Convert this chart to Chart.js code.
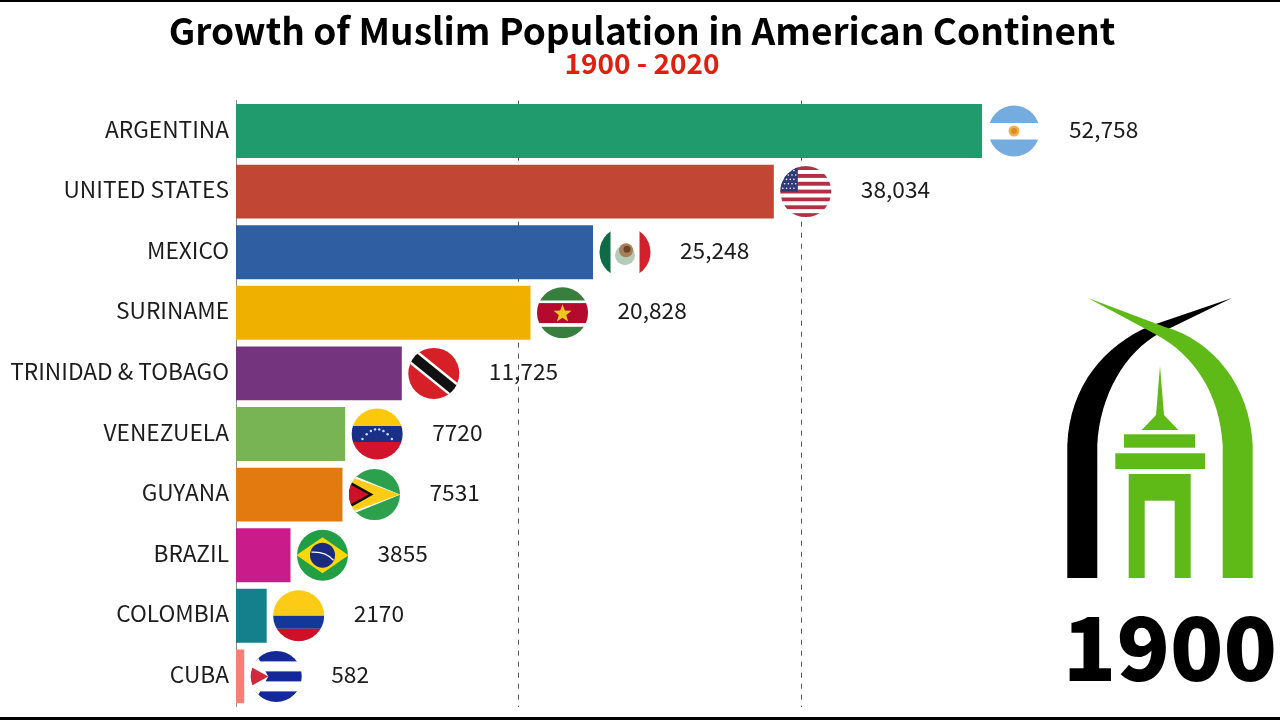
<!DOCTYPE html>
<html>
<head>
<meta charset="utf-8">
<title>Growth of Muslim Population in American Continent</title>
<script src="https://cdn.jsdelivr.net/npm/chart.js@4/dist/chart.umd.min.js"></script>
<style>
  html, body { margin: 0; padding: 0; background: #fff; overflow: hidden; }
  canvas { display: block; }
</style>
</head>
<body>
<canvas id="chart" width="1280" height="720"></canvas>
<script>
const countries = ["ARGENTINA", "UNITED STATES", "MEXICO", "SURINAME", "TRINIDAD & TOBAGO", "VENEZUELA", "GUYANA", "BRAZIL", "COLOMBIA", "CUBA"];
const population = [52758, 38034, 25248, 20828, 11725, 7720, 7531, 3855, 2170, 582];
const barColors = ["#1F9B6E", "#C24634", "#305EA3", "#EFB000", "#74357E", "#78B454", "#E27A10", "#C91C8A", "#14808C", "#FA7E76"];
const gridValues = [20000, 40000];
const year = "1900";

const FONT = '"Noto Sans CJK SC", "Noto Sans", sans-serif';

// Small helpers for the flags, everything relative to the flag centre
function band(c, color, x, y, w, h) {
  c.fillStyle = color;
  c.fillRect(x, y, w, h);
}
function poly(c, color, pts) {
  c.fillStyle = color;
  c.beginPath();
  pts.forEach((p, i) => (i ? c.lineTo(p[0], p[1]) : c.moveTo(p[0], p[1])));
  c.closePath();
  c.fill();
}
function disc(c, color, x, y, r) {
  c.fillStyle = color;
  c.beginPath();
  c.arc(x, y, r, 0, Math.PI * 2);
  c.fill();
}
function star(c, color, x, y, r) {
  const pts = [];
  for (let i = 0; i < 10; i++) {
    const a = -Math.PI / 2 + (i * Math.PI) / 5;
    const d = i % 2 ? r * 0.42 : r;
    pts.push([x + d * Math.cos(a), y + d * Math.sin(a)]);
  }
  poly(c, color, pts);
}

const flags = {
  "ARGENTINA": (c) => {
    band(c, "#74ACDF", -26, -26, 52, 18);
    band(c, "#74ACDF", -26, 8.5, 52, 18);
    disc(c, "#F2B04A", 0, 0, 5.5);
    disc(c, "#D98E1F", 0, 0, 3);
  },
  "UNITED STATES": (c) => {
    for (let i = 0; i < 13; i++) band(c, i % 2 ? "#FFFFFF" : "#B03045", -26, -25.5 + (i * 51) / 13, 52, 51 / 13 + 0.3);
    band(c, "#2E3A78", -26, -26, 18, 26);
    for (let r = 0; r < 5; r++) {
      for (let k = 0; k < 4; k++) disc(c, "#FFFFFF", -23 + k * 3.7 + (r % 2) * 1.8, -21 + r * 4.4, 0.8);
    }
  },
  "MEXICO": (c) => {
    band(c, "#0F6B46", -26, -26, 11.5, 52);
    band(c, "#D2202C", 14.5, -26, 11.5, 52);
    disc(c, "#B5CDB8", 0, 3, 10);
    disc(c, "#A87F58", 1, -2, 7);
    disc(c, "#6B4526", 2, -3, 3.5);
  },
  "SURINAME": (c) => {
    band(c, "#377E3F", -26, -26, 52, 13.7);
    band(c, "#377E3F", -26, 14, 52, 12);
    band(c, "#B40A2D", -26, -9.7, 52, 20);
    star(c, "#ECC81D", 0, 1, 9.5);
  },
  "TRINIDAD & TOBAGO": (c) => {
    band(c, "#D61F26", -26, -26, 52, 52);
    c.rotate((39 * Math.PI) / 180);
    band(c, "#FFFFFF", -30, -7.5, 60, 15);
    band(c, "#111111", -30, -5, 60, 10);
  },
  "VENEZUELA": (c) => {
    band(c, "#FCC80C", -26, -26, 52, 18);
    band(c, "#1A2F86", -26, -8, 52, 16);
    band(c, "#CF142B", -26, 8, 52, 18);
    for (let i = -3.5; i <= 3.5; i++) disc(c, "#D5DEF5", i * 4.2, 5 - (12.25 - i * i) * 0.8, 1.2);
  },
  "GUYANA": (c) => {
    band(c, "#2CA04C", -26, -26, 52, 52);
    poly(c, "#FFFFFF", [[-26, -21], [26, 0], [-26, 21]]);
    poly(c, "#FCCB16", [[-26, -18.5], [25, 0], [-26, 18.5]]);
    poly(c, "#111111", [[-26, -14], [-1, 0], [-26, 14]]);
    poly(c, "#CE1126", [[-26, -11], [-6, 0], [-26, 11]]);
  },
  "BRAZIL": (c) => {
    band(c, "#229E45", -26, -26, 52, 52);
    poly(c, "#F8D808", [[-26, 0], [0, -18], [26, 0], [0, 18]]);
    disc(c, "#1A2A80", 0, 0, 12.5);
    c.strokeStyle = "#FFFFFF";
    c.lineWidth = 1.3;
    c.beginPath();
    c.moveTo(-11, -3);
    c.quadraticCurveTo(3, -4, 11, 5);
    c.stroke();
  },
  "COLOMBIA": (c) => {
    band(c, "#FCCB16", -26, -26, 52, 26);
    band(c, "#14389A", -26, 0, 52, 13);
    band(c, "#CE1126", -26, 13, 52, 13);
  },
  "CUBA": (c) => {
    band(c, "#14289A", -26, -26, 52, 11);
    band(c, "#14289A", -26, -5, 52, 10);
    band(c, "#14289A", -26, 15, 52, 11);
    poly(c, "#FFFFFF", [[-32, -26], [-22, -26], [-8, 0], [-22, 26], [-32, 26]]);
    poly(c, "#D2283C", [[-26, -10], [-8, 0], [-26, 10]]);
  },
};

// Flags and value labels sit at the end of each bar
const barEnds = {
  id: "barEnds",
  afterDatasetsDraw(chart) {
    const c = chart.ctx;
    chart.getDatasetMeta(0).data.forEach((bar, i) => {
      c.save();
      c.translate(bar.x + 32, bar.y);
      c.beginPath();
      c.arc(0, 0, 25.5, 0, Math.PI * 2);
      c.fillStyle = "#FFFFFF";
      c.fill();
      c.clip();
      flags[countries[i]](c);
      c.restore();

      const v = population[i];
      c.save();
      c.font = "22.7px " + FONT;
      c.fillStyle = "#1C1C1C";
      c.textAlign = "left";
      c.textBaseline = "middle";
      c.fillText(v >= 10000 ? v.toLocaleString("en-US") : String(v), bar.x + 87, bar.y - 2);
      c.restore();
    });
  },
};

// Black video edges, the logo and the big year on the right
const decor = {
  id: "decor",
  afterDraw(chart) {
    const c = chart.ctx;
    c.save();
    band(c, "#000000", 0, 0, 1280, 2);
    band(c, "#000000", 0, 717, 1280, 3);

    // black arch
    c.fillStyle = "#000000";
    c.beginPath();
    c.moveTo(1067.3, 578);
    c.lineTo(1067.3, 445);
    c.bezierCurveTo(1070, 385, 1105, 345, 1150, 326);
    c.lineTo(1232, 298);
    c.lineTo(1160, 333);
    c.bezierCurveTo(1125, 352, 1100, 395, 1097.3, 445);
    c.lineTo(1097.3, 578);
    c.closePath();
    c.fill();

    // green arch on top of it
    c.fillStyle = "#5FBA18";
    c.beginPath();
    c.moveTo(1252.7, 578);
    c.lineTo(1252.7, 445);
    c.bezierCurveTo(1250, 385, 1212, 340, 1165, 327);
    c.lineTo(1088, 298);
    c.lineTo(1155, 334);
    c.bezierCurveTo(1195, 355, 1220, 395, 1222.7, 445);
    c.lineTo(1222.7, 578);
    c.closePath();
    c.fill();

    // tower
    poly(c, "#5FBA18", [[1160, 366], [1164, 415], [1178.3, 430], [1141.7, 430], [1156, 415]]);
    band(c, "#5FBA18", 1124, 434.3, 71, 13.4);
    band(c, "#5FBA18", 1115.3, 453.3, 89.7, 15.7);
    band(c, "#5FBA18", 1128.7, 474, 62, 104);
    band(c, "#FFFFFF", 1144.7, 500.7, 30, 78);

    c.font = "900 88px " + FONT;
    c.fillStyle = "#000000";
    c.textAlign = "center";
    c.textBaseline = "middle";
    c.fillText(year, 1170, 648);
    c.restore();
  },
};

new Chart(document.getElementById("chart"), {
  type: "bar",
  plugins: [barEnds, decor],
  data: {
    labels: countries,
    datasets: [
      {
        data: population,
        backgroundColor: barColors,
        barPercentage: 0.89,
        categoryPercentage: 1,
      },
    ],
  },
  options: {
    indexAxis: "y",
    responsive: false,
    animation: false,
    devicePixelRatio: 1,
    layout: { padding: { left: 4, right: 0, top: 0, bottom: 13.3 } },
    plugins: {
      legend: { display: false },
      tooltip: { enabled: false },
      title: {
        display: true,
        text: "Growth of Muslim Population in American Continent",
        color: "#000000",
        font: { family: FONT, size: 37, weight: "bold", lineHeight: 1 },
        padding: { top: 12, bottom: 0 },
      },
      subtitle: {
        display: true,
        text: "1900 - 2020",
        color: "#DD2010",
        font: { family: FONT, size: 28, weight: "bold", lineHeight: 1 },
        padding: { top: 0, bottom: 23.7 },
      },
    },
    scales: {
      x: {
        min: 0,
        max: 73832,
        afterBuildTicks: (scale) => {
          scale.ticks = gridValues.map((value) => ({ value }));
        },
        afterFit: (scale) => {
          scale.height = 0;
        },
        ticks: { display: false },
        border: { display: false, dash: [5, 6] },
        grid: { drawTicks: false, color: "#555555" },
      },
      y: {
        // the label padding would otherwise push the plot bottom up by 20px
        afterFit: (scale) => {
          scale.width = 232;
          scale.paddingTop = 0;
          scale.paddingBottom = 0;
        },
        ticks: {
          color: "#1C1C1C",
          padding: 7,
          labelOffset: -2,
          font: { family: FONT, size: 22.7 },
          autoSkip: false,
        },
        border: { color: "#888888" },
        grid: { display: false, drawTicks: false },
      },
    },
  },
});
</script>
</body>
</html>
